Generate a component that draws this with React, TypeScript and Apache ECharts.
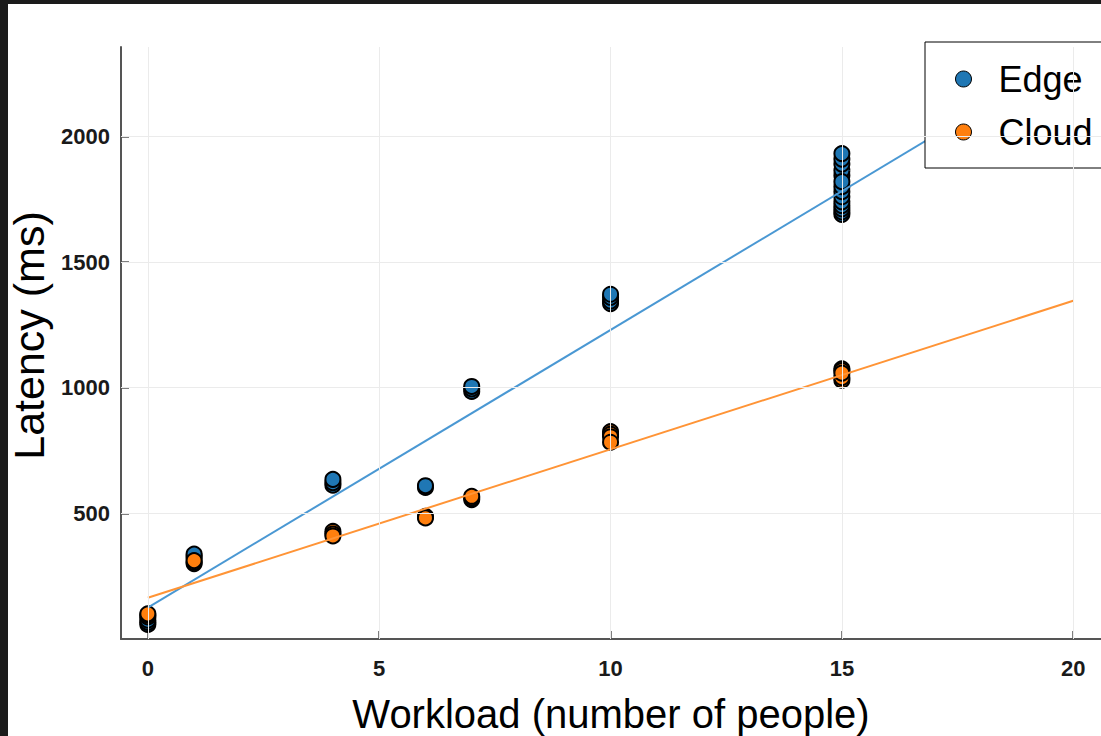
import React, { useEffect, useRef } from 'react';
import * as echarts from 'echarts';

// Tick positions on both axes
const xTicks = [0, 5, 10, 15, 20];
const yTicks = [500, 1000, 1500, 2000];

// Edge measurements: workload (people) and latency (ms)
const edgeWorkload = [
  0, 0, 0,
  1, 1, 1,
  4, 4, 4,
  6, 6,
  7, 7, 7,
  10, 10, 10, 10,
  15, 15, 15, 15, 15, 15, 15, 15, 15, 15, 15, 15, 15, 15,
];
const edgeLatency = [
  58, 66, 75,
  322, 330, 338,
  612, 622, 635,
  603, 610,
  985, 995, 1005,
  1335, 1345, 1360, 1372,
  1690, 1700, 1712, 1725, 1740, 1760, 1780, 1800, 1845, 1865, 1890, 1910, 1932, 1820,
];

// Cloud measurements: workload (people) and latency (ms)
const cloudWorkload = [
  0, 0, 0,
  1, 1, 1,
  4, 4, 4,
  6, 6,
  7, 7, 7,
  10, 10, 10, 10,
  15, 15, 15, 15, 15,
];
const cloudLatency = [
  88, 95, 100,
  300, 305, 312,
  428, 418, 410,
  488, 482,
  555, 562, 568,
  825, 815, 805, 783,
  1030, 1040, 1075, 1068, 1058,
];

// Linear trend lines (endpoints at workload 0 and 20)
const fitWorkload = [0, 20];
const edgeFitLatency = [125, 2335];
const cloudFitLatency = [164, 1346];

const FONT = '"Liberation Sans", Arial, Helvetica, sans-serif';
const EDGE_COLOR = '#1f77b4';
const CLOUD_COLOR = '#ff7f0e';
const EDGE_LINE = '#4a98d3';
const CLOUD_LINE = '#ff9436';
const AXIS_COLOR = '#555555';

export default function App() {
  const ref = useRef<HTMLDivElement>(null);

  useEffect(() => {
    document.body.style.margin = '0';
    const chart = echarts.init(ref.current!, null, { renderer: 'svg' });

    const pairs = (xs: number[], ys: number[]) => xs.map((x, i) => [x, ys[i]]);

    const scatterStyle = (color: string) => ({
      color,
      borderColor: '#000',
      borderWidth: 2,
      opacity: 1,
    });

    const plainNumber = (v: number) => String(v);

    chart.setOption({
      animation: false,
      backgroundColor: '#ffffff',
      textStyle: { fontFamily: FONT },
      grid: {
        left: 121,
        right: 0,
        top: 47,
        bottom: 97,
        containLabel: false,
        outerBoundsMode: 'none',
      },
      xAxis: {
        type: 'value',
        min: -0.58,
        max: 20.6,
        name: 'Workload (number of people)',
        nameLocation: 'middle',
        nameGap: 55,
        nameTextStyle: { fontSize: 40, color: '#000', fontFamily: FONT },
        axisLine: { show: true, onZero: false, lineStyle: { color: AXIS_COLOR, width: 2 } },
        axisTick: {
          show: true,
          inside: true,
          length: 8,
          customValues: xTicks,
          lineStyle: { color: AXIS_COLOR, width: 1.5 },
        },
        axisLabel: {
          customValues: xTicks,
          formatter: plainNumber,
          fontSize: 22,
          fontWeight: 'bold',
          color: '#1a1a1a',
          margin: 18,
          fontFamily: FONT,
        },
        splitLine: { show: false },
      },
      yAxis: {
        type: 'value',
        min: 0,
        max: 2356,
        name: 'Latency (ms)',
        nameLocation: 'middle',
        nameRotate: 90,
        nameGap: 70,
        nameTextStyle: { fontSize: 43, color: '#000', fontFamily: FONT, padding: [0, 0, 0, 15] },
        axisLine: { show: true, onZero: false, lineStyle: { color: AXIS_COLOR, width: 2 } },
        axisTick: {
          show: true,
          inside: true,
          length: 8,
          customValues: yTicks,
          lineStyle: { color: AXIS_COLOR, width: 1.5 },
        },
        axisLabel: {
          customValues: yTicks,
          formatter: plainNumber,
          fontSize: 22,
          fontWeight: 'bold',
          color: '#1a1a1a',
          margin: 11,
          fontFamily: FONT,
        },
        splitLine: { show: false },
      },
      legend: {
        data: ['Edge', 'Cloud'],
        orient: 'vertical',
        left: 925,
        top: 42,
        backgroundColor: '#ffffff',
        borderColor: '#000000',
        borderWidth: 1,
        borderRadius: 0,
        padding: [17, 24, 16, 30],
        itemGap: 13,
        itemWidth: 60,
        itemHeight: 16,
        icon: 'circle',
        itemStyle: { borderColor: '#000', borderWidth: 1 },
        textStyle: { fontSize: 36, color: '#000', lineHeight: 40, fontFamily: FONT },
        selectedMode: false,
      },
      series: [
        {
          // light grid lines at the tick positions
          type: 'line',
          name: 'grid',
          data: [],
          silent: true,
          z: 0,
          markLine: {
            silent: true,
            symbol: ['none', 'none'],
            label: { show: false },
            emphasis: { disabled: true },
            lineStyle: { color: '#ebebeb', width: 1, type: 'solid' },
            data: [
              ...xTicks.map((v) => ({ xAxis: v })),
              ...yTicks.map((v) => ({ yAxis: v })),
            ],
          },
        },
        {
          type: 'scatter',
          name: 'Edge',
          symbol: 'circle',
          symbolSize: 15,
          itemStyle: scatterStyle(EDGE_COLOR),
          data: pairs(edgeWorkload, edgeLatency),
          z: 2,
        },
        {
          type: 'scatter',
          name: 'Cloud',
          symbol: 'circle',
          symbolSize: 15,
          itemStyle: scatterStyle(CLOUD_COLOR),
          data: pairs(cloudWorkload, cloudLatency),
          z: 2,
        },
        {
          type: 'line',
          name: 'Edge trend',
          showSymbol: false,
          silent: true,
          lineStyle: { color: EDGE_LINE, width: 2 },
          data: pairs(fitWorkload, edgeFitLatency),
          z: 3,
        },
        {
          type: 'line',
          name: 'Cloud trend',
          showSymbol: false,
          silent: true,
          lineStyle: { color: CLOUD_LINE, width: 2 },
          data: pairs(fitWorkload, cloudFitLatency),
          z: 3,
        },
      ],
      graphic: [
        {
          type: 'rect',
          z: 100,
          silent: true,
          shape: { x: 0, y: 0, width: 1101, height: 4 },
          style: { fill: '#1b1b1b' },
        },
        {
          type: 'rect',
          z: 100,
          silent: true,
          shape: { x: 0, y: 0, width: 8, height: 736 },
          style: { fill: '#1b1b1b' },
        },
      ],
    });

    return () => chart.dispose();
  }, []);

  return <div ref={ref} style={{ width: 1101, height: 736 }} />;
}
